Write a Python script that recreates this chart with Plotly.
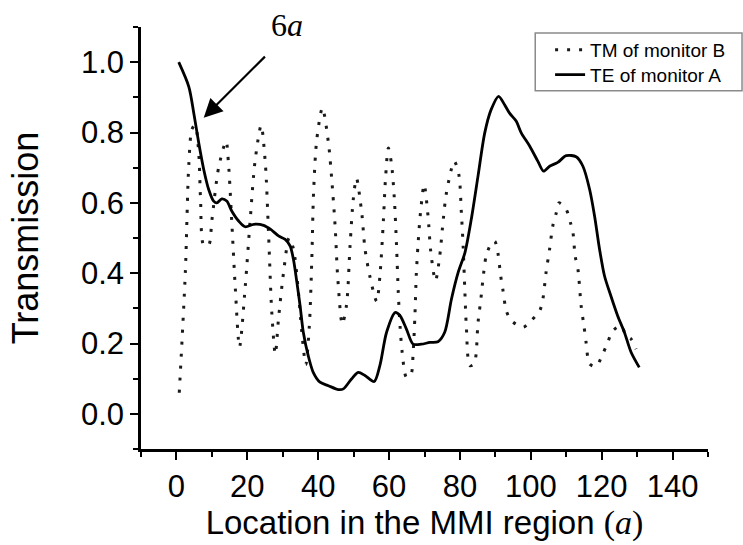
import plotly.graph_objects as go

# TM transmission recorded at monitor B (dotted curve)
tm_x = [0.8, 2.5, 3.5, 4.4, 5.3, 6.3, 6.8, 7.7, 9.1, 10.0, 11.9, 14.0, 14.7, 15.7, 16.6,
        17.8, 19.4, 20.8, 22.2, 23.9, 25.1, 26.0, 26.9, 27.9, 28.8, 30.2, 31.8, 33.0, 34.3,
        35.3, 36.5, 37.5, 38.2, 38.7, 39.6, 41.2, 42.9, 43.8, 44.8, 45.5, 46.8, 48.0, 49.0,
        49.9, 50.8, 52.3, 53.2, 54.6, 56.5, 57.4, 58.4, 59.0, 59.8, 60.7, 61.5, 62.1, 62.6,
        63.1, 63.7, 64.9, 66.2, 66.8, 67.3, 67.7, 68.4, 69.0, 69.9, 71.0, 71.8, 73.1, 74.3,
        75.3, 76.2, 78.4, 79.7, 80.4, 80.9, 81.4, 81.8, 82.8, 84.0, 85.1, 85.9, 86.5, 87.4,
        88.7, 89.8, 90.7, 91.5, 92.1, 93.1, 94.5, 97.8, 100.1, 102.5, 103.4, 104.3, 105.3,
        106.2, 107.2, 107.9, 110.0, 111.2, 111.9, 112.5, 113.3, 114.2, 115.0, 115.6, 116.6,
        118.4, 120.3, 121.7, 123.1, 125.5, 126.9, 128.3, 129.7]
tm_y = [0.06, 0.40, 0.71, 0.81, 0.82, 0.74, 0.61, 0.48, 0.48, 0.55, 0.70, 0.775, 0.71, 0.53,
        0.36, 0.19, 0.36, 0.55, 0.72, 0.82, 0.71, 0.51, 0.29, 0.17, 0.27, 0.40, 0.50, 0.47,
        0.36, 0.24, 0.14, 0.25, 0.44, 0.63, 0.78, 0.87, 0.77, 0.67, 0.53, 0.39, 0.255, 0.31,
        0.48, 0.61, 0.67, 0.57, 0.47, 0.39, 0.32, 0.39, 0.55, 0.67, 0.756, 0.71, 0.61, 0.48,
        0.345, 0.25, 0.175, 0.104, 0.113, 0.175, 0.28, 0.40, 0.515, 0.586, 0.652, 0.562,
        0.458, 0.378, 0.449, 0.553, 0.629, 0.718, 0.68, 0.572, 0.477, 0.345, 0.25, 0.137,
        0.142, 0.26, 0.326, 0.383, 0.449, 0.482, 0.491, 0.458, 0.392, 0.354, 0.293, 0.265,
        0.246, 0.265, 0.293, 0.326, 0.402, 0.468, 0.534, 0.572, 0.600, 0.581, 0.543, 0.515,
        0.449, 0.411, 0.307, 0.25, 0.203, 0.142, 0.135, 0.170, 0.203, 0.236, 0.25, 0.222,
        0.213, 0.184]

# TE transmission recorded at monitor A (solid curve)
te_x = [0.65, 3.5, 4.9, 6.3, 7.7, 9.1, 10.5, 11.4, 12.8, 14.2, 15.6, 17.5, 19.4, 21.8, 24.6,
        26.5, 28.8, 30.7, 32.1, 33.0, 34.0, 34.9, 35.8, 37.2, 38.6, 40.5, 42.9, 45.7, 47.1,
        49.4, 51.3, 53.2, 55.8, 57.4, 59.3, 61.7, 63.1, 64.9, 66.8, 69.1, 71.5, 73.8, 75.7,
        77.6, 79.5, 81.4, 83.2, 85.1, 87.0, 88.8, 90.9, 92.6, 94.0, 95.9, 97.3, 99.7, 102.0,
        103.6, 105.3, 107.6, 110.0, 112.8, 114.7, 116.6, 118.0, 119.4, 120.8, 122.6, 124.5,
        126.4, 128.3, 130.6]
te_y = [1.00, 0.93, 0.855, 0.77, 0.695, 0.638, 0.605, 0.600, 0.611, 0.605, 0.577, 0.549,
        0.532, 0.539, 0.536, 0.525, 0.506, 0.496, 0.477, 0.44, 0.373, 0.307, 0.232, 0.165,
        0.118, 0.090, 0.080, 0.069, 0.071, 0.099, 0.118, 0.109, 0.092, 0.137, 0.232, 0.288,
        0.279, 0.241, 0.198, 0.198, 0.203, 0.205, 0.232, 0.326, 0.402, 0.458, 0.553, 0.676,
        0.799, 0.865, 0.903, 0.879, 0.855, 0.832, 0.799, 0.761, 0.718, 0.690, 0.704, 0.715,
        0.734, 0.731, 0.704, 0.638, 0.562, 0.468, 0.392, 0.335, 0.279, 0.232, 0.175, 0.132]

x_ticks = [0, 20, 40, 60, 80, 100, 120, 140]
y_ticks = [0.0, 0.2, 0.4, 0.6, 0.8, 1.0]

SANS = "Liberation Sans, Arial, sans-serif"
SERIF = "Liberation Serif, Times New Roman, serif"

fig = go.Figure()
fig.add_trace(go.Scatter(
    x=tm_x, y=tm_y, mode="lines", name="TM of monitor B", legend="legend",
    line=dict(color="#1a1a1a", width=3, dash="3px,9px", shape="spline", smoothing=0.8),
))
fig.add_trace(go.Scatter(
    x=te_x, y=te_y, mode="lines", name="TE of monitor A", legend="legend2",
    line=dict(color="black", width=2.8, shape="spline", smoothing=0.8),
))

axis_common = dict(
    showline=True, linecolor="black", linewidth=2.5, mirror=False,
    ticks="outside", ticklen=8, tickwidth=2.2, tickcolor="black",
    showgrid=False, zeroline=False,
    tickfont=dict(family=SANS, size=31, color="black"),
)

fig.update_xaxes(
    range=[-10, 150], tickvals=x_ticks, ticktext=[str(v) for v in x_ticks],
    minor=dict(ticks="outside", ticklen=5, tickwidth=2.2, tickcolor="black", dtick=10, tick0=0),
    title=dict(text="Location in the MMI region "
                    "<span style='font-family:Liberation Serif, Times New Roman, serif;font-size:34px'>(<i>a</i>)</span>",
               font=dict(family=SANS, size=33, color="black"), standoff=6),
    **axis_common,
)
fig.update_yaxes(
    range=[-0.1, 1.1], tickvals=y_ticks, ticktext=[f"{v:.1f}" for v in y_ticks],
    minor=dict(ticks="outside", ticklen=5, tickwidth=2.2, tickcolor="black", dtick=0.1, tick0=0),
    title=dict(text="Transmission", font=dict(family=SANS, size=36, color="black"), standoff=32),
    **axis_common,
)

# "6a" label with arrow pointing at the TE curve
fig.add_annotation(
    x=7.7, y=0.842, ax=25.4, ay=1.02, xref="x", yref="y", axref="x", ayref="y",
    text="", showarrow=True, arrowhead=2, arrowsize=1.7, arrowwidth=2.2, arrowcolor="black",
)
fig.add_annotation(
    x=0.257, y=1.005, xref="paper", yref="paper", xanchor="center", yanchor="middle",
    text="6<i>a</i>", showarrow=False,
    font=dict(family=SERIF, size=32, color="black"),
)

# frame around the two legend rows
fig.add_shape(
    type="rect", xref="paper", yref="paper",
    x0=0.6953, x1=1.06, y0=0.849, y1=0.9858,
    line=dict(color="#8a8a8a", width=1.5), fillcolor="rgba(0,0,0,0)", layer="above",
)

legend_common = dict(
    xanchor="left", yanchor="middle",
    font=dict(family=SANS, size=19, color="black"),
    borderwidth=0, bgcolor="rgba(0,0,0,0)", itemwidth=30,
)

fig.update_layout(
    width=743, height=545,
    margin=dict(l=141, r=31, t=27, b=94),
    paper_bgcolor="white", plot_bgcolor="white",
    showlegend=True,
    legend=dict(x=0.7215, y=0.9458, **legend_common),
    legend2=dict(x=0.7215, y=0.8868, **legend_common),
)

fig.write_html("out.html")
